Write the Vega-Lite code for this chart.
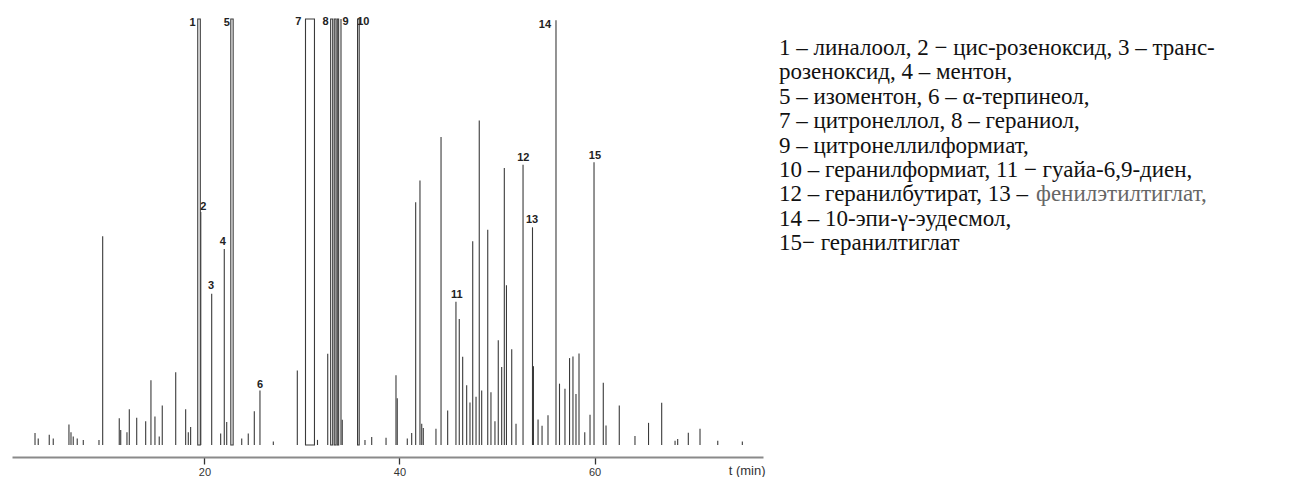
{
  "$schema": "https://vega.github.io/schema/vega-lite/v6.json",
  "background": "white",
  "padding": {"left": 12, "top": 15, "right": 0, "bottom": 0},
  "spacing": 14,
  "config": {"view": {"stroke": null}},
  "datasets": {
    "peaks": [
      {"t": 2.62, "h": 2.8}, {"t": 2.95, "h": 1.5}, {"t": 4.08, "h": 2.4}, {"t": 4.49, "h": 1.5},
      {"t": 6.10, "h": 4.8}, {"t": 6.31, "h": 3.0}, {"t": 6.54, "h": 2.0}, {"t": 6.95, "h": 1.5},
      {"t": 7.57, "h": 1.2}, {"t": 9.18, "h": 1.2}, {"t": 9.56, "h": 49}, {"t": 11.26, "h": 6.3},
      {"t": 11.41, "h": 3.5}, {"t": 12.05, "h": 3.0}, {"t": 12.29, "h": 8.4}, {"t": 13.05, "h": 6.4},
      {"t": 13.97, "h": 5.6}, {"t": 14.51, "h": 15.2}, {"t": 14.92, "h": 6.7}, {"t": 15.36, "h": 2.0},
      {"t": 15.67, "h": 9.3}, {"t": 17.05, "h": 17.1}, {"t": 18.07, "h": 8.4}, {"t": 18.34, "h": 3.0},
      {"t": 18.58, "h": 4.2}, {"t": 19.62, "h": 54.7}, {"t": 20.74, "h": 35.5}, {"t": 21.66, "h": 2.7},
      {"t": 22.03, "h": 46}, {"t": 22.28, "h": 5.4}, {"t": 23.82, "h": 1.5}, {"t": 24.49, "h": 2.7},
      {"t": 25.11, "h": 7.9}, {"t": 25.69, "h": 12.8}, {"t": 27.06, "h": 0.8}, {"t": 29.52, "h": 17.5},
      {"t": 31.59, "h": 1.2}, {"t": 32.64, "h": 21.4}, {"t": 34.0, "h": 100}, {"t": 34.13, "h": 5.9},
      {"t": 36.46, "h": 1.2}, {"t": 37.15, "h": 1.9}, {"t": 38.62, "h": 1.7}, {"t": 39.64, "h": 16.4},
      {"t": 39.77, "h": 11}, {"t": 40.80, "h": 1.5}, {"t": 41.25, "h": 2.8}, {"t": 41.66, "h": 57},
      {"t": 42.10, "h": 62.1}, {"t": 42.28, "h": 5}, {"t": 42.44, "h": 4}, {"t": 43.74, "h": 3.8},
      {"t": 44.26, "h": 72.3}, {"t": 44.94, "h": 8.1}, {"t": 45.79, "h": 33.6}, {"t": 46.13, "h": 29.6},
      {"t": 46.48, "h": 20.7}, {"t": 46.89, "h": 14}, {"t": 47.23, "h": 10}, {"t": 47.51, "h": 47.8},
      {"t": 47.85, "h": 11.3}, {"t": 48.18, "h": 76.2}, {"t": 48.43, "h": 12.8}, {"t": 49.05, "h": 50.5},
      {"t": 49.38, "h": 12.4}, {"t": 49.79, "h": 5.6}, {"t": 50.13, "h": 24.6}, {"t": 50.48, "h": 18.3},
      {"t": 50.75, "h": 65}, {"t": 50.97, "h": 37.5}, {"t": 51.51, "h": 22.5}, {"t": 51.95, "h": 5},
      {"t": 52.67, "h": 65.8}, {"t": 53.64, "h": 51.1}, {"t": 53.74, "h": 18.5}, {"t": 54.21, "h": 6},
      {"t": 54.62, "h": 4.5}, {"t": 55.23, "h": 7}, {"t": 56.05, "h": 99.7}, {"t": 56.41, "h": 14.4},
      {"t": 56.97, "h": 13.2}, {"t": 57.44, "h": 20.4}, {"t": 57.79, "h": 20.8}, {"t": 58.10, "h": 12},
      {"t": 58.41, "h": 21.5}, {"t": 59.0, "h": 3}, {"t": 59.54, "h": 7.1}, {"t": 59.95, "h": 66.4},
      {"t": 60.90, "h": 14.6}, {"t": 61.18, "h": 4.6}, {"t": 62.54, "h": 9.3}, {"t": 64.15, "h": 2.1},
      {"t": 65.54, "h": 5.2}, {"t": 66.89, "h": 9.9}, {"t": 68.26, "h": 1}, {"t": 68.53, "h": 1.4},
      {"t": 69.62, "h": 2.9}, {"t": 70.82, "h": 3.8}, {"t": 72.64, "h": 1}, {"t": 75.16, "h": 0.8}
    ],
    "wide": [
      {"t0": 19.31, "t1": 19.57, "h": 100},
      {"t0": 22.70, "t1": 22.94, "h": 100},
      {"t0": 30.36, "t1": 31.28, "h": 100},
      {"t0": 32.94, "t1": 33.15, "h": 100},
      {"t0": 33.31, "t1": 33.49, "h": 100},
      {"t0": 33.62, "t1": 33.76, "h": 100},
      {"t0": 35.70, "t1": 35.87, "h": 100}
    ],
    "labels": [
      {"id": "1", "t": 18.79, "h": 99.1}, {"id": "2", "t": 19.88, "h": 55.9},
      {"id": "3", "t": 20.67, "h": 37.3}, {"id": "4", "t": 21.87, "h": 47.7},
      {"id": "5", "t": 22.28, "h": 99.1}, {"id": "6", "t": 25.69, "h": 14.2},
      {"id": "7", "t": 29.62, "h": 99.3}, {"id": "8", "t": 32.43, "h": 99.3},
      {"id": "9", "t": 34.48, "h": 99.3}, {"id": "10", "t": 36.29, "h": 99.3},
      {"id": "11", "t": 45.87, "h": 35.3}, {"id": "12", "t": 52.70, "h": 67.3},
      {"id": "13", "t": 53.59, "h": 52.7}, {"id": "14", "t": 54.92, "h": 98.7},
      {"id": "15", "t": 60.05, "h": 67.8}
    ],
    "legend": [
      {"line": 1, "text": "1 – линалоол, 2 − цис-розеноксид, 3 – транс-"},
      {"line": 2, "text": "розеноксид, 4 – ментон,"},
      {"line": 3, "text": "5 – изоментон, 6 – α-терпинеол,"},
      {"line": 4, "text": "7 – цитронеллол, 8 – гераниол,"},
      {"line": 5, "text": "9 – цитронеллилформиат,"},
      {"line": 6, "text": "10 – геранилформиат, 11 − гуайа-6,9-диен,"},
      {"line": 7, "text": "12 – геранилбутират, 13 – "},
      {"line": 8, "text": "14 – 10-эпи-γ-эудесмол,"},
      {"line": 9, "text": "15− геранилтиглат"}
    ],
    "legendGrey": [
      {"line": 7, "text": "фенилэтилтиглат,"}
    ]
  },
  "hconcat": [
    {
      "width": 751,
      "height": 426,
      "layer": [
        {
          "data": {"name": "peaks"},
          "mark": {"type": "rule", "color": "#3a3a3a", "strokeWidth": 1.1},
          "encoding": {
            "x": {"field": "t", "type": "quantitative",
              "scale": {"domain": [0.26, 77.28], "nice": false, "zero": false},
              "axis": {
                "values": [20, 40, 60], "offset": 12, "grid": false,
                "domainColor": "#8a8a8a", "domainWidth": 2,
                "tickColor": "#333", "tickSize": 7, "tickWidth": 1.3,
                "labelFont": "Liberation Sans", "labelFontSize": 11, "labelColor": "#333",
                "labelPadding": 2, "labelFlush": false,
                "title": "t (min)", "titleFont": "Liberation Sans", "titleFontSize": 13,
                "titleFontWeight": "normal", "titleColor": "#333",
                "titleAnchor": "end", "titleAlign": "right", "titleBaseline": "alphabetic",
                "titleX": 753, "titleY": 17
              }},
            "y": {"field": "h", "type": "quantitative",
              "scale": {"domain": [0, 100], "nice": false}, "axis": null},
            "y2": {"datum": 0}
          }
        },
        {
          "mark": {"type": "rule", "color": "#555", "strokeWidth": 1.2},
          "encoding": {"y": {"datum": 0, "type": "quantitative"}}
        },
        {
          "data": {"name": "wide"},
          "mark": {"type": "rect", "fill": "white", "stroke": "#3a3a3a", "strokeWidth": 1.1},
          "encoding": {
            "x": {"field": "t0", "type": "quantitative"},
            "x2": {"field": "t1"},
            "y": {"field": "h", "type": "quantitative"},
            "y2": {"datum": 0}
          }
        },
        {
          "data": {"name": "labels"},
          "mark": {"type": "text", "font": "Liberation Sans", "fontSize": 11, "fontWeight": "bold",
            "color": "#222", "align": "center", "baseline": "middle"},
          "encoding": {
            "x": {"field": "t", "type": "quantitative"},
            "y": {"field": "h", "type": "quantitative"},
            "text": {"field": "id"}
          }
        }
      ]
    },
    {
      "width": 505,
      "height": 426,
      "layer": [
        {
          "data": {"name": "legend"},
          "mark": {"type": "text", "font": "Liberation Serif", "fontSize": 23, "color": "#111",
            "align": "left", "baseline": "alphabetic"},
          "encoding": {
            "x": {"datum": 0, "type": "quantitative", "scale": {"domain": [0, 1]}, "axis": null},
            "y": {"field": "line", "type": "ordinal",
              "scale": {"type": "point", "domain": [1, 2, 3, 4, 5, 6, 7, 8, 9], "range": [36, 231], "padding": 0},
              "axis": null},
            "text": {"field": "text"}
          }
        },
        {
          "data": {"name": "legendGrey"},
          "mark": {"type": "text", "font": "Liberation Serif", "fontSize": 23, "color": "#666",
            "align": "left", "baseline": "alphabetic", "dx": 257},
          "encoding": {
            "x": {"datum": 0, "type": "quantitative"},
            "y": {"field": "line", "type": "ordinal"},
            "text": {"field": "text"}
          }
        }
      ]
    }
  ]
}
